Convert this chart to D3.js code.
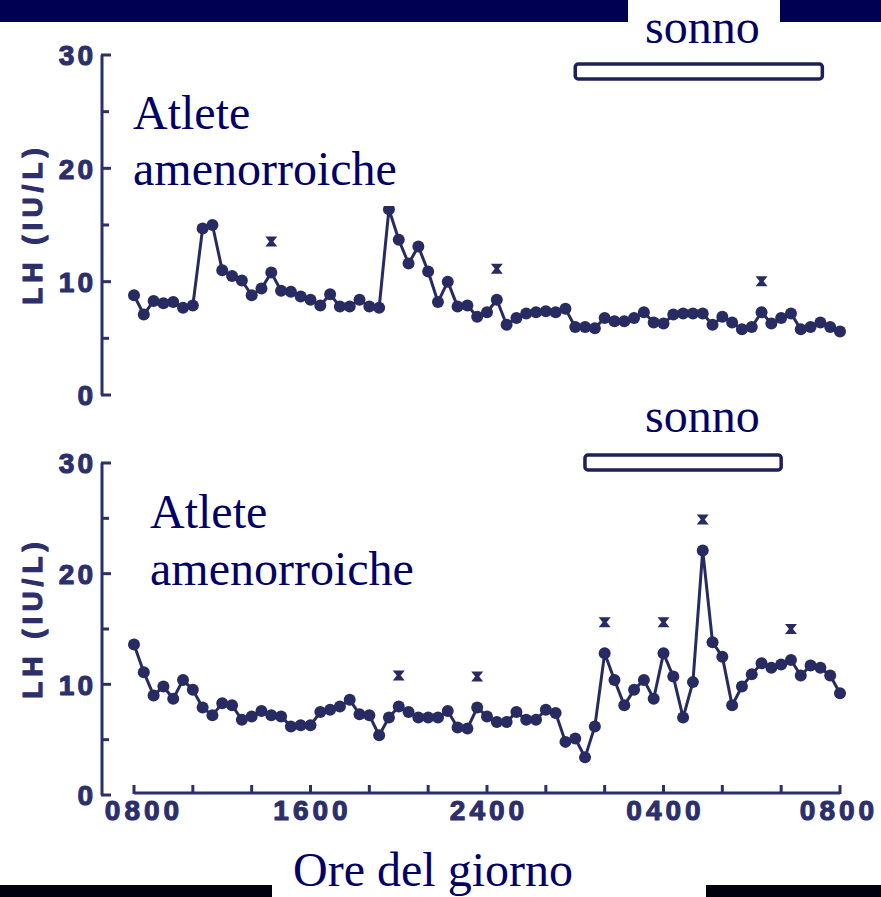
<!DOCTYPE html>
<html>
<head>
<meta charset="utf-8">
<script src="https://cdn.jsdelivr.net/npm/d3@7"></script>
<style>
  html, body { margin: 0; padding: 0; background: #fff; }
  svg { display: block; }
</style>
</head>
<body>
<svg id="chart" width="881" height="897"></svg>
<script>
// LH concentration (IU/L), sampled every 20 minutes from 08:00 to 08:00 next day
const hoursPerSample = 20 / 60;

const topLH = [
  8.8, 7.1, 8.3, 8.1, 8.2, 7.7, 7.9, 14.7, 15.0,
  11.0, 10.5, 10.1, 8.8, 9.4, 10.8,
  9.2, 9.1, 8.7, 8.4, 7.9, 8.9, 7.8, 7.8, 8.4, 7.8, 7.7,
  16.4, 13.7, 11.6, 13.1, 10.9, 8.2, 10.0, 7.8, 7.9, 6.9, 7.3, 8.4, 6.2,
  6.8, 7.2, 7.3, 7.4, 7.3, 7.6, 6.0, 6.0, 5.9, 6.8, 6.5, 6.5,
  6.8, 7.3, 6.4, 6.3, 7.1, 7.2, 7.2, 7.2, 6.2, 6.9, 6.4, 5.8, 6.0, 7.3,
  6.3, 6.8, 7.2, 5.8, 6.0, 6.4, 6.0, 5.6
];

const bottomLH = [
  13.6, 11.1, 9.0, 9.8, 8.7, 10.4, 9.5, 7.9, 7.2, 8.3, 8.1, 6.8, 7.1,
  7.6, 7.2, 7.1, 6.2, 6.3, 6.3, 7.5, 7.7, 8.0, 8.6, 7.3, 7.2, 5.4,
  7.0, 8.0, 7.5, 7.0, 7.0, 7.0, 7.6, 6.1, 6.0, 7.9, 7.1, 6.6, 6.6,
  7.5, 6.8, 6.8, 7.7, 7.4, 4.8, 5.1, 3.4, 6.2,
  12.8, 10.4, 8.1, 9.5, 10.4, 8.7, 12.8, 10.7, 7.0, 10.2, 22.1, 13.8,
  12.5, 8.1, 9.8, 10.9, 11.9, 11.5, 11.8, 12.2, 10.8, 11.7, 11.5, 10.8, 9.2
];

// samples flagged as significant pulses (×)
const topPulses = [14, 37, 64];
const bottomPulses = [27, 35, 48, 54, 58, 67];

// sleep period, hours after 08:00
const topSleep = [15.0, 23.4];
const bottomSleep = [15.33, 22.0];

const xTickHours = d3.range(0, 25, 2);
const xTickLabels = { 0: "0800", 6: "1600", 12: "2400", 18: "0400", 24: "0800" };
const yMajorTicks = [0, 10, 20, 30];
const yMinorTicks = [5, 15, 25];

const groupLabel = ["Atlete", "amenorroiche"];
const sleepLabel = "sonno";
const yAxisTitle = "LH (IU/L)";
const xAxisTitle = "Ore del giorno";

const ink = "#282a62";
const axisInk = "#2c2f6c";
const navyText = "#000066";
const sans = "Liberation Sans, Arial, sans-serif";
const serif = "Liberation Serif, 'Times New Roman', serif";

const svg = d3.select("#chart");

const x = d3.scaleLinear().domain([0, 24]).range([134, 840]);
const panels = [
  { data: topLH, pulses: topPulses, sleep: topSleep,
    y: d3.scaleLinear().domain([0, 30]).range([395, 55]),
    sleepY: 64, sonnoY: 43, labelX: 133, labelY: [129, 185],
    box: [125, 92, 278, 114], titleY: 224 },
  { data: bottomLH, pulses: bottomPulses, sleep: bottomSleep,
    y: d3.scaleLinear().domain([0, 30]).range([795, 463]),
    sleepY: 455, sonnoY: 432, labelX: 150, labelY: [528, 585],
    box: [140, 492, 280, 110], titleY: 618 }
];

// header / footer bands
svg.append("rect").attr("x", 0).attr("y", 0).attr("width", 628).attr("height", 22).attr("fill", "#000052");
svg.append("rect").attr("x", 780).attr("y", 0).attr("width", 101).attr("height", 22).attr("fill", "#000052");
svg.append("rect").attr("x", 0).attr("y", 885).attr("width", 272).attr("height", 12).attr("fill", "#00000f");
svg.append("rect").attr("x", 706).attr("y", 885).attr("width", 175).attr("height", 12).attr("fill", "#00000f");

const pulseMark = "M-6,-5L6,-5L2,0L6,5L-6,5L-2,0Z";

// bold, slightly inked sans label
function axisText(sel, size, spacing) {
  return sel
    .attr("font-family", sans)
    .attr("font-weight", "bold").attr("font-size", size)
    .attr("letter-spacing", spacing)
    .attr("fill", axisInk)
    .attr("stroke", axisInk).attr("stroke-width", 1.1)
    .attr("stroke-linejoin", "round");
}

panels.forEach(p => {
  const g = svg.append("g");
  const y = p.y;

  // y axis: spine plus inward ticks
  g.append("line")
    .attr("x1", 102).attr("x2", 102)
    .attr("y1", y(30)).attr("y2", y(0))
    .attr("stroke", axisInk).attr("stroke-width", 3);
  g.selectAll(".maj").data(yMajorTicks).join("line")
    .attr("x1", 101).attr("x2", 111)
    .attr("y1", d => y(d)).attr("y2", d => y(d))
    .attr("stroke", axisInk).attr("stroke-width", 3);
  g.selectAll(".min").data(yMinorTicks).join("line")
    .attr("x1", 101).attr("x2", 109)
    .attr("y1", d => y(d)).attr("y2", d => y(d))
    .attr("stroke", axisInk).attr("stroke-width", 3);
  axisText(g.selectAll(".ylab").data(yMajorTicks).join("text"), 28, 3)
    .attr("x", 96).attr("y", d => y(d) + 3)
    .attr("text-anchor", "end").attr("dominant-baseline", "middle")
    .text(d => d);

  // rotated axis title
  axisText(g.append("text"), 28, 5)
    .attr("transform", `translate(42,${p.titleY}) rotate(-90)`)
    .attr("text-anchor", "middle")
    .text(yAxisTitle);

  // series line and dots
  const pts = p.data.map((v, i) => [i * hoursPerSample, v]);
  g.append("path")
    .datum(pts)
    .attr("fill", "none").attr("stroke", ink).attr("stroke-width", 3)
    .attr("stroke-linejoin", "round")
    .attr("d", d3.line().x(d => x(d[0])).y(d => y(d[1])));
  g.selectAll(".dot").data(pts).join("circle")
    .attr("cx", d => x(d[0])).attr("cy", d => y(d[1]))
    .attr("r", 6).attr("fill", ink);

  // pulse markers just above flagged samples
  g.selectAll(".pulse").data(p.pulses).join("path")
    .attr("d", pulseMark)
    .attr("transform", i => `translate(${x(i * hoursPerSample)},${y(p.data[i]) - 31})`)
    .attr("fill", ink);

  // white panel behind the group label
  g.append("rect")
    .attr("x", p.box[0]).attr("y", p.box[1])
    .attr("width", p.box[2]).attr("height", p.box[3])
    .attr("fill", "#fff");
  const lab = g.append("text")
    .attr("font-family", serif)
    .attr("font-size", 48).attr("fill", navyText);
  groupLabel.forEach((t, k) => {
    lab.append("tspan").attr("x", p.labelX).attr("y", p.labelY[k]).text(t);
  });

  // sleep bar
  g.append("rect")
    .attr("x", x(p.sleep[0])).attr("y", p.sleepY)
    .attr("width", x(p.sleep[1]) - x(p.sleep[0])).attr("height", 15)
    .attr("rx", 3)
    .attr("fill", "#fff").attr("stroke", "#1e2058").attr("stroke-width", 3.5);
  g.append("text")
    .attr("x", 645).attr("y", p.sonnoY)
    .attr("font-family", serif)
    .attr("font-size", 48).attr("fill", navyText)
    .text(sleepLabel);
});

// shared time axis under the lower panel
const xa = svg.append("g");
xa.append("line")
  .attr("x1", x(0)).attr("x2", x(24))
  .attr("y1", 793).attr("y2", 793)
  .attr("stroke", axisInk).attr("stroke-width", 3);
xa.selectAll(".xt").data(xTickHours).join("line")
  .attr("x1", d => x(d)).attr("x2", d => x(d))
  .attr("y1", 794).attr("y2", 785)
  .attr("stroke", axisInk).attr("stroke-width", 3);
axisText(xa.selectAll(".xl").data(xTickHours.filter(h => xTickLabels[h])).join("text"), 28, 4)
  .attr("x", d => x(d) + 2 + (d === 0 ? 8 : 0) - (d === 24 ? 3 : 0))
  .attr("y", 813)
  .attr("text-anchor", "middle").attr("dominant-baseline", "middle")
  .text(d => xTickLabels[d]);

svg.append("text")
  .attr("x", 433).attr("y", 886)
  .attr("text-anchor", "middle")
  .attr("font-family", serif)
  .attr("font-size", 48).attr("fill", navyText)
  .text(xAxisTitle);
</script>
</body>
</html>
